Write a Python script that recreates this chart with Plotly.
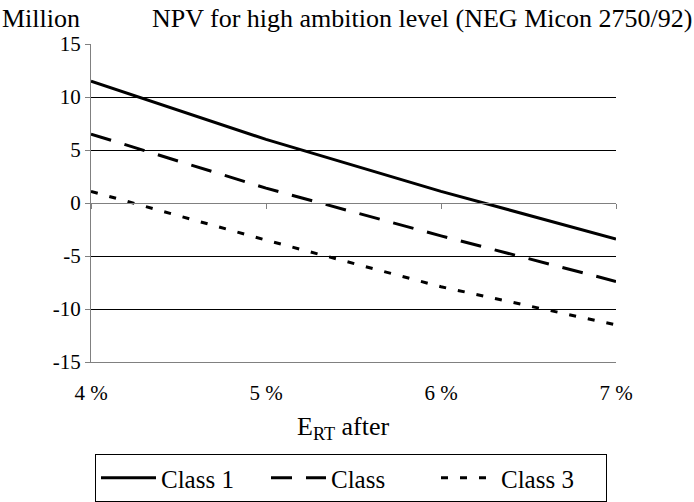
import plotly.graph_objects as go

x_vals = [4, 5, 6, 7]
class1 = [11.5, 6.0, 1.1, -3.4]
class2 = [6.5, 1.4, -3.1, -7.4]
class3 = [1.1, -3.5, -7.9, -11.5]
series_names = ["Class 1", "Class", "Class 3"]
x_ticks = [4, 5, 6, 7]
x_ticklabels = ["4 %", "5 %", "6 %", "7 %"]
y_ticks = [-15, -10, -5, 0, 5, 10, 15]
y_ticklabels = ["-15", "-10", "-5", "0", "5", "10", "15"]

FONT = "Liberation Serif"
W, H = 694, 502
L, R, T, B = 91, 78, 44, 140
PW, PH = W - L - R, H - T - B


def px_x(px):
    return (px - L) / PW


def px_y(py):
    return (T + PH - py) / PH


fig = go.Figure()
styles = ["solid", "21px,14px", "7px,12px"]
for name, ys, dash in zip(series_names, [class1, class2, class3], styles):
    fig.add_trace(go.Scatter(x=x_vals, y=ys, mode="lines", name=name,
                             line=dict(color="black", width=3, dash=dash)))

# overlay axis that crosses at y=0 with tick marks (Excel style)
fig.add_trace(go.Scatter(x=x_vals, y=[None] * 4, xaxis="x2", showlegend=False,
                         hoverinfo="skip", mode="lines"))

tickfont = dict(family=FONT, size=21, color="black")
fig.update_layout(
    width=W, height=H,
    margin=dict(l=L, r=R, t=T, b=B, autoexpand=False),
    paper_bgcolor="white", plot_bgcolor="white",
    font=dict(family=FONT, size=26, color="black"),
    showlegend=True,
    xaxis=dict(range=[4, 7], tickvals=x_ticks, ticktext=x_ticklabels,
               showgrid=False, zeroline=False, showline=True, linecolor="#808080",
               linewidth=1, ticks="", tickfont=tickfont, ticklabelstandoff=12),
    xaxis2=dict(range=[4, 7], overlaying="x", anchor="free", position=0.5,
                side="bottom", tickvals=x_ticks, showticklabels=False,
                ticks="outside", ticklen=5, tickcolor="#808080",
                showline=True, linecolor="#808080", showgrid=False, zeroline=False),
    yaxis=dict(range=[-15, 15], tickvals=y_ticks, ticktext=y_ticklabels,
               showgrid=True, gridcolor="black", gridwidth=1, zeroline=False,
               showline=True, linecolor="#808080", linewidth=1,
               ticks="outside", ticklen=5, tickcolor="#808080",
               tickfont=tickfont),
    legend=dict(orientation="h", x=px_x(95), xanchor="left",
                y=px_y(454), yanchor="top",
                bordercolor="black", borderwidth=1,
                font=dict(family=FONT, size=25, color="black"),
                itemwidth=55, entrywidth=100, tracegroupgap=0),
    annotations=[
        dict(text="Million", x=px_x(0), y=px_y(18), xref="paper", yref="paper",
             xanchor="left", yanchor="middle",
             showarrow=False, font=dict(family=FONT, size=26)),
        dict(text="NPV for high ambition level (NEG Micon 2750/92)",
             x=px_x(694), xref="paper", y=px_y(18), yref="paper", showarrow=False,
             xanchor="right", yanchor="middle",
             font=dict(family=FONT, size=26)),
        dict(text="E<sub>RT</sub> after", x=px_x(343), xref="paper",
             y=px_y(428), yref="paper", showarrow=False,
             xanchor="center", yanchor="middle",
             font=dict(family=FONT, size=26)),
    ],
)
fig.write_html("out.html", config={"displayModeBar": False},
               post_script="document.body.style.margin='0';")
